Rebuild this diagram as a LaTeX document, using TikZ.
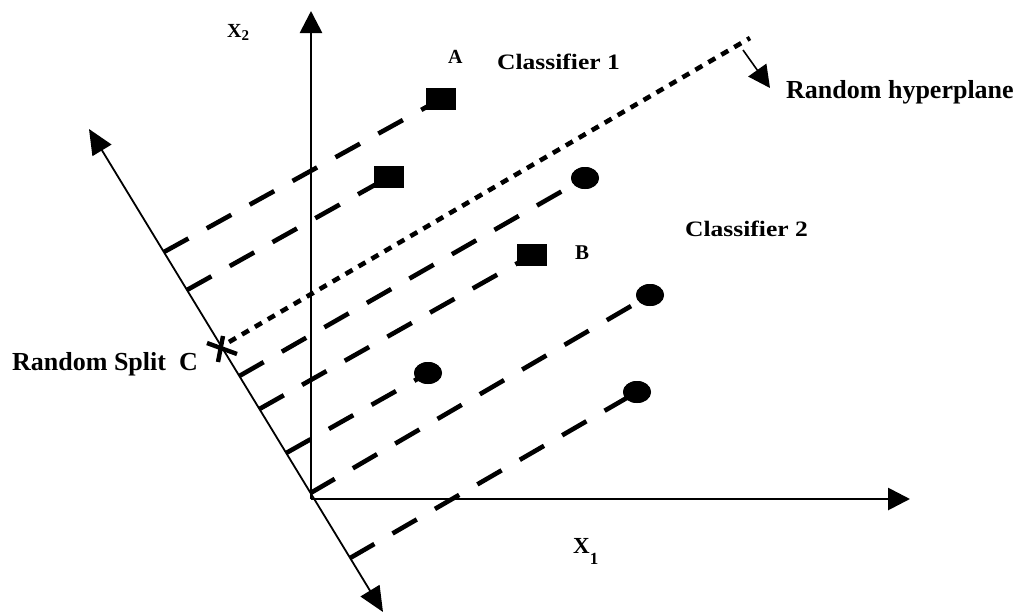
\documentclass[tikz,border=0pt]{standalone}
\usepackage{fontspec}
\setmainfont{Liberation Serif}
\usetikzlibrary{arrows.meta,shapes.geometric,calc}
\begin{document}
\begin{tikzpicture}[x=1pt,y=-1pt,
  axis/.style={line width=2.8pt,-{Triangle[length=22pt,width=22pt]}},
  diag/.style={line width=1.8pt,{Triangle[length=25pt,width=22pt]}-{Triangle[length=25pt,width=22pt]}},
  proj/.style={line width=4.6pt,dash pattern=on 28pt off 21pt},
  hyper/.style={line width=4.6pt,dash pattern=on 8pt off 7pt},
  thinarrow/.style={line width=1.6pt,-{Triangle[length=22pt,width=22pt]}},
  xmark/.style={line width=4.4pt},
  sqm/.style={fill=black,draw=none,rectangle,minimum width=29pt,minimum height=22pt,inner sep=0pt},
  dotm/.style={fill=black,draw=none,ellipse,minimum width=28pt,minimum height=22pt,inner sep=0pt},
  lbl/.style={inner sep=0pt,anchor=base west,font=\bfseries\fontsize{26}{30}\selectfont},
]
\useasboundingbox (0,0) rectangle (1018,614);
% axes
\coordinate (O) at (311,499);
\coordinate (X2tip) at (311,11);
\coordinate (X1tip) at (910,499);
\coordinate (Dtop) at (89,129);
\coordinate (Dbot) at (383,612);
\draw[axis] (O) -- (X2tip);
\draw[axis] (O) -- (X1tip);
\draw[diag] (Dtop) -- (Dbot);
% axis points (projections)
\coordinate (t1) at ($(Dtop)!0.2547!(Dbot)$);
\coordinate (t2) at ($(Dtop)!0.3333!(Dbot)$);
\coordinate (t3) at ($(Dtop)!0.5114!(Dbot)$);
\coordinate (t4) at ($(Dtop)!0.5797!(Dbot)$);
\coordinate (t5) at ($(Dtop)!0.6708!(Dbot)$);
\coordinate (t6) at ($(Dtop)!0.7536!(Dbot)$);
\coordinate (t7) at ($(Dtop)!0.8882!(Dbot)$);
% markers
\node[sqm] (mA) at (441,99) {};
\node[sqm] (m2) at (389,177) {};
\node[dotm] (m3) at (585,178) {};
\node[sqm] (mB) at (532,255) {};
\node[dotm] (m5) at (428,373) {};
\node[dotm] (m6) at (650,295) {};
\node[dotm] (m7) at (637,392) {};
% projection lines
\draw[proj] (t1) -- (mA.center);
\draw[proj] (t2) -- (m2.center);
\draw[proj] (t3) -- (m3.center);
\draw[proj] (t4) -- (mB.center);
\draw[proj] (t5) -- (m5.center);
\draw[proj] (t6) -- (m6.center);
\draw[proj] (t7) -- (m7.center);
% markers on top of their lines
\fill (mA.south west) rectangle (mA.north east);
\fill (m2.south west) rectangle (m2.north east);
\fill (mB.south west) rectangle (mB.north east);
\fill (m3.center) ellipse [x radius=14pt, y radius=11pt];
\fill (m5.center) ellipse [x radius=14pt, y radius=11pt];
\fill (m6.center) ellipse [x radius=14pt, y radius=11pt];
\fill (m7.center) ellipse [x radius=14pt, y radius=11pt];
% hyperplane
\coordinate (Hs) at (229,342);
\coordinate (He) at (750,38);
\draw[hyper] (Hs) -- (He);
\coordinate (Ha) at (743,50);
\coordinate (Ht) at (770,88);
\draw[thinarrow] (Ha) -- (Ht);
% split mark C
\coordinate (c1) at (207,343);
\coordinate (c2) at (237,354);
\coordinate (c3) at (223,336);
\coordinate (c4) at (218,362);
\draw[xmark] (c1) -- (c2);
\draw[xmark] (c3) -- (c4);
% labels
\node[lbl,font=\bfseries\fontsize{20}{22}\selectfont] (lx2) at (227,37) {X\raisebox{-3pt}{\fontsize{15}{15}\selectfont 2}};
\node[lbl,font=\bfseries\fontsize{23}{24}\selectfont] (lx1) at (573,553) {X\raisebox{-11pt}{\fontsize{17}{17}\selectfont 1}};
\node[lbl,font=\bfseries\fontsize{20}{22}\selectfont] (lA) at (448,63) {A};
\node[lbl,font=\bfseries\fontsize{21}{22}\selectfont] (lB) at (575,259) {B};
\node[lbl,font=\bfseries\fontsize{22}{24}\selectfont] (lc1) at (497,69) {\scalebox{1.16}[1]{Classifier 1}};
\node[lbl,font=\bfseries\fontsize{22}{24}\selectfont] (lc2) at (685,236) {\scalebox{1.16}[1]{Classifier 2}};
\node[lbl] (lrh) at (786,98) {Random hyperplane};
\node[lbl] (lrs) at (12,370) {Random Split\ \ C};
\end{tikzpicture}
\end{document}
